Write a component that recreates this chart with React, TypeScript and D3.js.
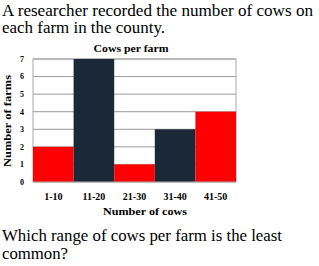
import React from "react";
import * as d3 from "d3";

const categories = ["1-10", "11-20", "21-30", "31-40", "41-50"];
const farms = [2, 7, 1, 3, 4];
const yTicks = [0, 1, 2, 3, 4, 5, 6, 7];
const barColors = ["#ff0000", "#1b2838", "#ff0000", "#1b2838", "#ff0000"];

const W = 319;
const H = 266;
const plot = { left: 33, right: 236, top: 59, bottom: 182 };
const serif = "'Liberation Serif', 'DejaVu Serif', serif";

export default function App() {
  const x = d3
    .scaleBand<string>()
    .domain(categories)
    .range([plot.left, plot.right])
    .padding(0);
  const y = d3.scaleLinear().domain([0, 7]).range([plot.bottom, plot.top]);

  return (
    <svg
      width={W}
      height={H}
      style={{ position: "absolute", left: 0, top: 0, background: "#fff" }}
      fontFamily={serif}
    >
      <rect x={0} y={0} width={W} height={H} fill="#fff" />
      <text x={2} y={16} fontSize={16} fill="#000" textLength={311} lengthAdjust="spacingAndGlyphs">
        A researcher recorded the number of cows on
      </text>
      <text x={2} y={33} fontSize={16} fill="#000" textLength={163} lengthAdjust="spacingAndGlyphs">
        each farm in the county.
      </text>

      <text x={131} y={52} fontSize={10.5} fontWeight="bold" textAnchor="middle" textLength={75} lengthAdjust="spacingAndGlyphs">
        Cows per farm
      </text>

      {yTicks.slice(1).map((t) => (
        <line
          key={t}
          x1={plot.left}
          x2={plot.right}
          y1={y(t)}
          y2={y(t)}
          stroke="#9a9a9a"
          strokeWidth={1}
        />
      ))}
      <rect
        x={plot.left}
        y={plot.top}
        width={plot.right - plot.left}
        height={plot.bottom - plot.top}
        fill="none"
        stroke="#a8a8a8"
        strokeWidth={1}
      />

      {categories.map((c, i) => (
        <rect
          key={c}
          x={x(c)!}
          y={y(farms[i])}
          width={x.bandwidth()}
          height={y(0) - y(farms[i])}
          fill={barColors[i]}
        />
      ))}
      <line
        x1={plot.left}
        x2={plot.right}
        y1={plot.bottom}
        y2={plot.bottom}
        stroke="#a8a8a8"
      />

      {yTicks.map((t) => (
        <text
          key={t}
          x={22}
          y={y(t)}
          dy="0.35em"
          fontSize={8}
          fontWeight="bold"
          textAnchor="middle"
        >
          {t}
        </text>
      ))}

      {categories.map((c) => (
        <text
          key={c}
          x={x(c)! + x.bandwidth() / 2}
          y={200}
          fontSize={10}
          fontWeight="bold"
          textAnchor="middle"
        >
          {c}
        </text>
      ))}

      <text x={145} y={215} fontSize={10.5} fontWeight="bold" textAnchor="middle" textLength={84} lengthAdjust="spacingAndGlyphs">
        Number of cows
      </text>
      <text
        transform={`translate(11,121) rotate(-90)`}
        fontSize={10.5}
        fontWeight="bold"
        textAnchor="middle"
        textLength={92}
        lengthAdjust="spacingAndGlyphs"
      >
        Number of farms
      </text>

      <text x={2} y={241} fontSize={16} fill="#000" textLength={280} lengthAdjust="spacingAndGlyphs">
        Which range of cows per farm is the least
      </text>
      <text x={2} y={259} fontSize={16} fill="#000" textLength={66} lengthAdjust="spacingAndGlyphs">
        common?
      </text>
    </svg>
  );
}
